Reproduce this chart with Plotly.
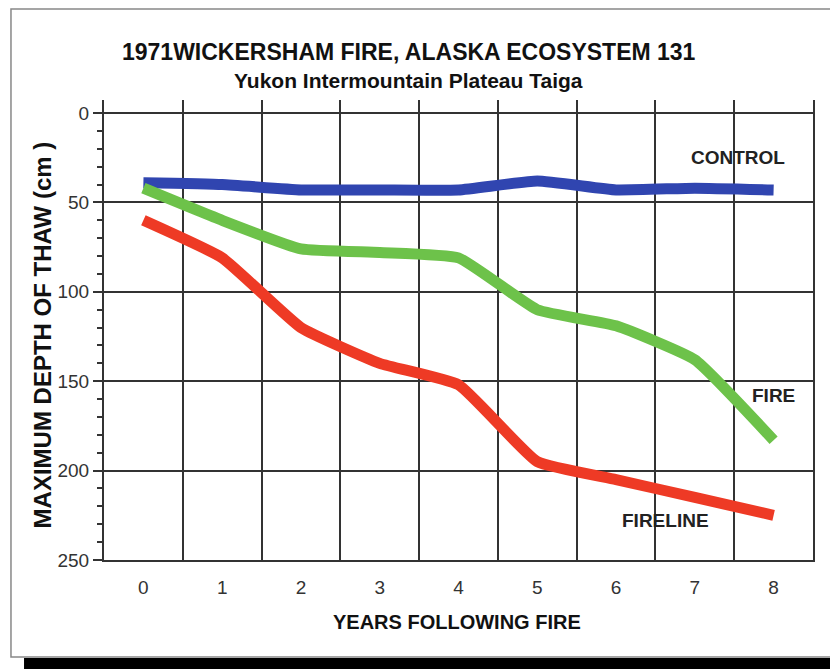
import plotly.graph_objects as go

years = [0, 1, 2, 3, 4, 5, 6, 7, 8]
control = [39, 40, 43, 43, 43, 38, 43, 42, 43]
fire = [42, 60, 76, 78, 81, 110, 119, 138, 183]
fireline = [60, 81, 120, 140, 152, 195, 205, 215, 225]
y_ticks = [0, 50, 100, 150, 200, 250]

FONT = "Liberation Sans, Arial, sans-serif"

fig = go.Figure()
fig.add_trace(go.Scatter(x=years, y=control, mode="lines", name="CONTROL",
                         line=dict(color="#3045B0", width=11, shape="spline", smoothing=0.4)))
fig.add_trace(go.Scatter(x=years, y=fire, mode="lines", name="FIRE",
                         line=dict(color="#6DC24A", width=11, shape="spline", smoothing=0.4)))
fig.add_trace(go.Scatter(x=years, y=fireline, mode="lines", name="FIRELINE",
                         line=dict(color="#EE3A25", width=11, shape="spline", smoothing=0.4)))

# series labels
fig.add_annotation(x=7.55, y=25, text="<b>CONTROL</b>", showarrow=False,
                   font=dict(family=FONT, size=19, color="#222"))
fig.add_annotation(x=8.0, y=158, text="<b>FIRE</b>", showarrow=False,
                   font=dict(family=FONT, size=19, color="#222"))
fig.add_annotation(x=6.63, y=228, text="<b>FIRELINE</b>", showarrow=False,
                   font=dict(family=FONT, size=19, color="#222"))

# titles (explicit anchors, paper coords outside the plot would otherwise auto-anchor)
title_kw = dict(xref="paper", yref="paper", showarrow=False, xanchor="center", yanchor="middle")
fig.add_annotation(x=0.43, y=1.104, text="<b>1971WICKERSHAM FIRE, ALASKA ECOSYSTEM 131</b>",
                   font=dict(family=FONT, size=23, color="#111"), **title_kw)
fig.add_annotation(x=0.43, y=1.043, text="<b>Yukon Intermountain Plateau Taiga</b>",
                   font=dict(family=FONT, size=21, color="#111"), **title_kw)
fig.add_annotation(x=-0.087, y=0.489, textangle=-90, text="<b>MAXIMUM DEPTH OF THAW (cm )</b>",
                   font=dict(family=FONT, size=24, color="#111"), **title_kw)
fig.add_annotation(x=0.498, y=-0.135, text="<b>YEARS FOLLOWING FIRE</b>",
                   font=dict(family=FONT, size=20, color="#111"), **title_kw)

# outer frame and black strip at the bottom
fig.add_shape(type="rect", xref="paper", yref="paper", x0=-0.1312, x1=1.0339, y0=-0.2109, y1=1.198,
              line=dict(color="#888", width=1.5), fillcolor="rgba(0,0,0,0)", layer="below")
fig.add_shape(type="rect", xref="paper", yref="paper", x0=-0.1128, x1=1.04, y0=-0.25, y1=-0.213,
              line=dict(width=0), fillcolor="#000")

fig.update_xaxes(
    range=[-0.5, 8.5], tickvals=years, ticks="outside", ticklen=9, tickcolor="rgba(0,0,0,0)",
    showgrid=False, zeroline=False,
    showline=True, linecolor="#333", linewidth=2,
    tickfont=dict(family=FONT, size=19, color="#333"),
    minor=dict(tick0=0.5, dtick=1, showgrid=True, gridcolor="#333", gridwidth=1.5, ticks=""),
)
fig.update_yaxes(
    range=[250, -7.3], tickvals=y_ticks, ticks="outside", ticklen=9, tickwidth=1.5, tickcolor="#333",
    showgrid=True, gridcolor="#333", gridwidth=1.5, zeroline=False,
    showline=True, linecolor="#333", linewidth=2, mirror=True,
    tickfont=dict(family=FONT, size=19, color="#333"),
    minor=dict(dtick=10, ticks="outside", ticklen=5, tickwidth=1.5, tickcolor="#333", showgrid=False),
)

# the page adds an 8px body margin, so the figure is 8px smaller than the window
fig.update_layout(
    width=830, height=661,
    margin=dict(l=96, r=25, t=92, b=109),
    paper_bgcolor="white", plot_bgcolor="white",
    showlegend=False,
)

fig.write_html("out.html")
